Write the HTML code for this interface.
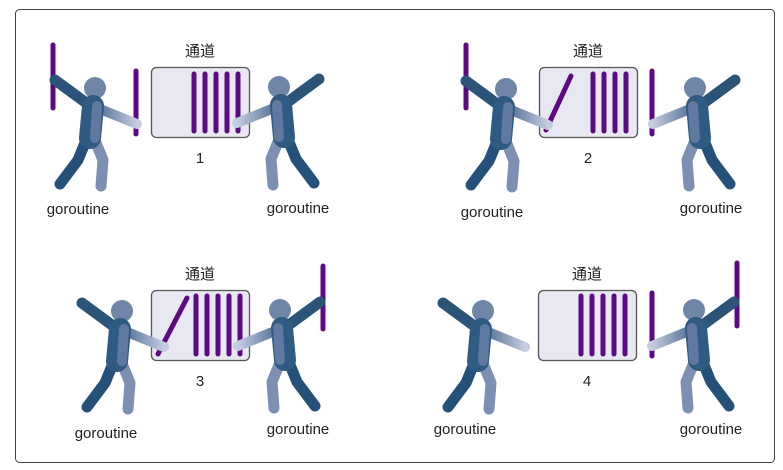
<!DOCTYPE html>
<html><head><meta charset="utf-8"><style>
html,body{margin:0;padding:0;background:#fff;}
svg{display:block;}
text{font-family:"Liberation Sans","Noto Sans CJK SC",sans-serif;fill:#222;}
</style></head><body>
<svg width="783" height="470" viewBox="0 0 783 470">
<defs>
<linearGradient id="ga" x1="0" y1="0" x2="1" y2="0">
<stop offset="0" stop-color="#4a6890"/><stop offset="1" stop-color="#c5cde0"/></linearGradient>
<g id="fig">
<circle cx="0" cy="0" r="11" fill="#6f86a8"/>
<path d="M-6,17 L-40,-8" stroke="#2b5478" stroke-width="11" stroke-linecap="round" fill="none"/>
<path d="M0,19 L42,36" stroke="url(#ga)" stroke-width="10" stroke-linecap="round" fill="none"/>
<path d="M-8,50 L-17,72 L-35,96" stroke="#25507a" stroke-width="11" stroke-linecap="round" stroke-linejoin="round" fill="none"/>
<path d="M-1,50 L8,72 L6,98" stroke="#7d8fb3" stroke-width="11" stroke-linecap="round" stroke-linejoin="round" fill="none"/>
<path d="M-2,18 L-5,50" stroke="#2f5a82" stroke-width="22" stroke-linecap="round" fill="none"/>
<path d="M2,18 L0,50" stroke="#6079a0" stroke-width="10" stroke-linecap="round" fill="none"/>
</g>
</defs>
<rect x="15.5" y="9.5" width="759" height="453" rx="4" fill="#fff" stroke="#444"/>
<g stroke="#5c0a82" stroke-width="5" stroke-linecap="round">
<g>
<rect x="151.5" y="67.5" width="98" height="70" rx="5" fill="#e8e8f2" stroke="#555" stroke-width="1.3"/>
<line x1="194" y1="74" x2="194" y2="131"/><line x1="205" y1="74" x2="205" y2="131"/><line x1="216" y1="74" x2="216" y2="131"/><line x1="227" y1="74" x2="227" y2="131"/><line x1="238" y1="74" x2="238" y2="131"/>
<line x1="53" y1="45" x2="53" y2="108"/><line x1="136" y1="71" x2="136" y2="134"/>
<use href="#fig" x="95" y="88" stroke="none"/>
<use href="#fig" transform="translate(279,87) scale(-1,1)" stroke="none"/>
</g>
<g>
<rect x="539.5" y="67.5" width="98" height="70" rx="5" fill="#e8e8f2" stroke="#555" stroke-width="1.3"/>
<line x1="546" y1="130" x2="571" y2="76"/>
<line x1="593" y1="74" x2="593" y2="131"/><line x1="604" y1="74" x2="604" y2="131"/><line x1="615" y1="74" x2="615" y2="131"/><line x1="626" y1="74" x2="626" y2="131"/>
<line x1="466" y1="45" x2="466" y2="108"/><line x1="652" y1="71" x2="652" y2="134"/>
<use href="#fig" x="506" y="89" stroke="none"/>
<use href="#fig" transform="translate(695,88) scale(-1,1)" stroke="none"/>
</g>
<g>
<rect x="151.5" y="290.5" width="98" height="70" rx="5" fill="#e8e8f2" stroke="#555" stroke-width="1.3"/>
<line x1="158" y1="354" x2="187" y2="298"/>
<line x1="196" y1="296" x2="196" y2="354"/><line x1="207" y1="296" x2="207" y2="354"/><line x1="218" y1="296" x2="218" y2="354"/><line x1="229" y1="296" x2="229" y2="354"/><line x1="240" y1="296" x2="240" y2="354"/>
<line x1="323" y1="266" x2="323" y2="329"/>
<use href="#fig" x="122" y="311" stroke="none"/>
<use href="#fig" transform="translate(280,310) scale(-1,1)" stroke="none"/>
</g>
<g>
<rect x="538.5" y="290.5" width="98" height="70" rx="5" fill="#e8e8f2" stroke="#555" stroke-width="1.3"/>
<line x1="581" y1="296" x2="581" y2="354"/><line x1="592" y1="296" x2="592" y2="354"/><line x1="603" y1="296" x2="603" y2="354"/><line x1="614" y1="296" x2="614" y2="354"/><line x1="625" y1="296" x2="625" y2="354"/>
<line x1="652" y1="293" x2="652" y2="356"/><line x1="737" y1="263" x2="737" y2="326"/>
<use href="#fig" x="483" y="311" stroke="none"/>
<use href="#fig" transform="translate(694,310) scale(-1,1)" stroke="none"/>
</g>
</g>
<g font-size="15">
<text x="200" y="56" text-anchor="middle">通道</text>
<text x="588" y="56" text-anchor="middle">通道</text>
<text x="200" y="279" text-anchor="middle">通道</text>
<text x="587" y="279" text-anchor="middle">通道</text>
<text x="200" y="163" text-anchor="middle">1</text>
<text x="588" y="163" text-anchor="middle">2</text>
<text x="200" y="386" text-anchor="middle">3</text>
<text x="587" y="386" text-anchor="middle">4</text>
<text x="78" y="214" text-anchor="middle">goroutine</text>
<text x="298" y="213" text-anchor="middle">goroutine</text>
<text x="492" y="217" text-anchor="middle">goroutine</text>
<text x="711" y="213" text-anchor="middle">goroutine</text>
<text x="106" y="438" text-anchor="middle">goroutine</text>
<text x="298" y="434" text-anchor="middle">goroutine</text>
<text x="465" y="434" text-anchor="middle">goroutine</text>
<text x="711" y="434" text-anchor="middle">goroutine</text>
</g>
</svg>
</body></html>
